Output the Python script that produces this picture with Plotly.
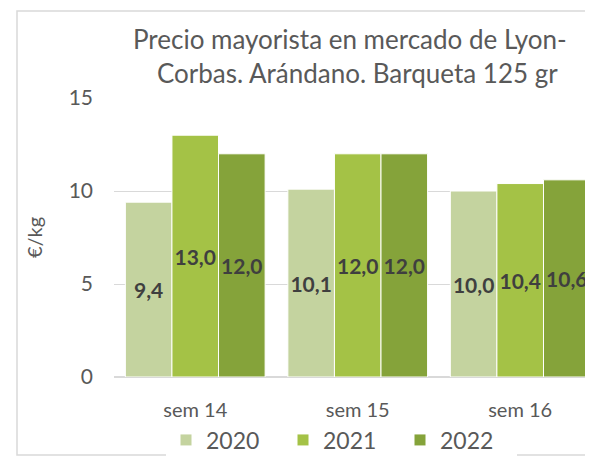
import plotly.graph_objects as go

weeks = ["sem 14", "sem 15", "sem 16"]
years = ["2020", "2021", "2022"]
prices = {
    "2020": [9.4, 10.1, 10.0],
    "2021": [13.0, 12.0, 10.4],
    "2022": [12.0, 12.0, 10.6],
}
colors = {"2020": "#c4d39f", "2021": "#a4c246", "2022": "#85a33a"}

title_lines = ["Precio mayorista en mercado de Lyon-", "Corbas. Arándano. Barqueta 125 gr"]

FONT = "Lato"
GREY = "#595959"

fig = go.Figure()
for year in years:
    vals = prices[year]
    fig.add_trace(
        go.Bar(
            x=weeks,
            y=vals,
            name=year,
            text=[f"{v:.1f}".replace(".", ",") for v in vals],
            textposition="inside",
            insidetextanchor="middle",
            constraintext="none",
            textangle=0,
            cliponaxis=False,
            textfont={"family": FONT, "size": 21, "color": "#3f3f3f", "weight": "bold"},
            marker={"color": colors[year], "line": {"color": "white", "width": 1}},
            hoverinfo="skip",
        )
    )

# the page body has an 8px margin, so the figure is drawn 8px in from the corner
OFF = 8
W, H = 593 - OFF, 459 - OFF
L, T, B = 114 - OFF, 98 - OFF, 459 - 377
pw, ph = W - L, H - T - B


def px(x):
    return (x - OFF - L) / pw


def py(y):
    return (H - B - (y - OFF)) / ph


fig.update_layout(
    width=W,
    height=H,
    margin={"l": L, "r": 0, "t": T, "b": B, "autoexpand": False},
    paper_bgcolor="white",
    plot_bgcolor="white",
    barmode="group",
    bargap=0.14,
    bargroupgap=0,
    font={"family": FONT, "color": GREY},
    showlegend=True,
    legend={
        "orientation": "h",
        "x": px(166),
        "xanchor": "left",
        "y": py(440),
        "yanchor": "middle",
        "font": {"size": 23, "color": GREY},
        "entrywidth": 72,
        "traceorder": "normal",
    },
    xaxis={
        "range": [-0.5, 2.448],
        "automargin": False,
        "showgrid": False,
        "showline": False,
        "tickfont": {"size": 20, "color": GREY},
        "ticklabelstandoff": 19,
    },
    yaxis={
        "range": [0, 15],
        "automargin": False,
        "tickvals": [0, 5, 10, 15],
        "showgrid": True,
        "gridcolor": "#d9d9d9",
        "zeroline": True,
        "zerolinecolor": "#d9d9d9",
        "showline": False,
        "tickfont": {"size": 21, "color": GREY},
        "ticklabelstandoff": 20,
        "title": {"text": "€/kg", "font": {"size": 20, "color": GREY}, "standoff": 20},
    },
    shapes=[
        {
            "type": "rect",
            "xref": "paper",
            "yref": "paper",
            "x0": px(17),
            "x1": px(620),
            "y0": py(455),
            "y1": py(11),
            "line": {"color": "#d9d9d9", "width": 1.5},
            "layer": "below",
        }
    ],
    annotations=[
        {
            "text": title_lines[0],
            "xref": "paper",
            "yref": "paper",
            "x": px(350),
            "y": py(39),
            "xanchor": "center",
            "yanchor": "middle",
            "showarrow": False,
            "font": {"size": 26, "color": GREY},
        },
        {
            "text": title_lines[1],
            "xref": "paper",
            "yref": "paper",
            "x": px(357),
            "y": py(73),
            "xanchor": "center",
            "yanchor": "middle",
            "showarrow": False,
            "font": {"size": 26, "color": GREY},
        },
    ],
)

fig.write_html("out.html")
